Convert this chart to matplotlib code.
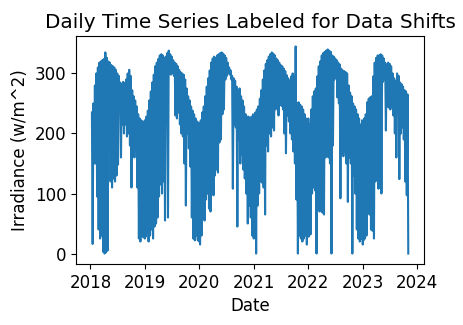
import matplotlib
matplotlib.use("Agg")
import matplotlib.pyplot as plt
import pandas as pd

plt.rcParams["font.size"] = 12

# 10-day readings per year: peak value at day 10*i, dip value at day 10*i + 5
peak_2018 = [235, 250, 280, 300, 310, 318, 320, 322, 324, 335, 326, 320, 318, 314, 312, 310, 306, 300,
             296, 285, 282, 286, 284, 290, 300, 306, 296, 272, 262, 255, 245, 232, 225, 222, 220, 218]
dip_2018 = [16, 150, 150, 95, 40, 25, 30, 3, 0, 2, 5, 215, 120, 110, 125, 120, 130, 148,
            240, 160, 215, 200, 215, 195, 200, 180, 110, 175, 160, 172, 110, 25, 20, 30, 27, 25]

peak_2019 = [222, 228, 238, 255, 270, 285, 298, 312, 318, 324, 330, 332, 330, 326, 328, 334, 338, 332, 328,
             322, 318, 316, 312, 306, 302, 300, 298, 290, 275, 262, 255, 245, 238, 232, 225, 220, 218]
dip_2019 = [28, 35, 20, 30, 40, 25, 45, 50, 60, 95, 115, 100, 120, 55, 232, 60, 300, 298, 300,
            296, 230, 225, 235, 215, 200, 195, 150, 80, 200, 175, 145, 60, 25, 22, 30, 22, 20]

peak_2020 = [216, 222, 235, 245, 262, 278, 292, 305, 318, 325, 328, 326, 330, 332, 334, 335, 333, 330, 326,
             318, 310, 305, 296, 292, 288, 278, 272, 275, 262, 255, 245, 232, 228, 228, 226, 228, 232]
dip_2020 = [15, 30, 60, 55, 90, 100, 75, 70, 100, 97, 130, 140, 135, 185, 190, 232, 240, 290, 296,
            300, 298, 290, 108, 215, 210, 45, 190, 150, 165, 140, 125, 100, 50, 80, 60, 30, 25]

peak_2021 = [210, 235, 240, 245, 258, 272, 290, 305, 316, 322, 328, 332, 335, 333, 330, 325, 322, 318, 314,
             312, 308, 304, 297, 292, 288, 295, 300, 296, 345, 250, 252, 248, 245, 240, 232, 225, 222]
dip_2021 = [35, 0, 80, 100, 120, 118, 110, 65, 180, 170, 200, 195, 210, 205, 240, 286, 230, 248, 246,
            240, 200, 167, 230, 220, 200, 190, 170, 150, 90, 0, 30, 25, 20, 25, 30, 15, 28]

peak_2022 = [225, 215, 240, 262, 270, 275, 295, 312, 320, 330, 334, 336, 338, 340, 338, 336, 330, 328, 325,
             322, 318, 315, 308, 305, 304, 302, 300, 280, 268, 262, 250, 245, 240, 232, 225, 215, 222]
dip_2022 = [30, 32, 100, 110, 105, 0, 90, 70, 72, 68, 65, 160, 165, 160, 150, 0, 180, 290, 296,
            260, 250, 92, 165, 162, 170, 150, 86, 160, 150, 0, 130, 100, 40, 25, 20, 25, 15]

peak_2023 = [218, 225, 232, 252, 258, 260, 262, 295, 318, 326, 330, 330, 332, 330, 325, 318, 315, 318, 316,
             312, 300, 292, 288, 300, 296, 285, 282, 278, 272, 270, 265]
dip_2023 = [22, 25, 30, 70, 65, 40, 38, 25, 120, 125, 108, 110, 100, 286, 290, 205, 245, 243, 240,
            245, 230, 200, 160, 240, 124, 200, 210, 190, 120, 97, 0]

years = [2018, 2019, 2020, 2021, 2022, 2023]
peaks = [peak_2018, peak_2019, peak_2020, peak_2021, peak_2022, peak_2023]
dips = [dip_2018, dip_2019, dip_2020, dip_2021, dip_2022, dip_2023]
first_bin = [1, 0, 0, 0, 0, 0]

dates, values = [], []
for year, pk, dp, b0 in zip(years, peaks, dips, first_bin):
    start = pd.Timestamp(f"{year}-01-01")
    for k, (p, d) in enumerate(zip(pk, dp)):
        day = 10 * (b0 + k)
        dates += [start + pd.Timedelta(days=day), start + pd.Timedelta(days=day + 5)]
        values += [p, d]

series = pd.Series(values, index=pd.DatetimeIndex(dates))

fig, ax = plt.subplots(figsize=(4.64, 3.25), dpi=100)
fig.subplots_adjust(left=0.164, right=0.914, top=0.889, bottom=0.188)
ax.plot(series.index, series.values)
ax.set_title("Daily Time Series Labeled for Data Shifts")
ax.set_xlabel("Date")
ax.set_ylabel("Irradiance (w/m^2)")
fig.savefig("out.png", dpi=100)
